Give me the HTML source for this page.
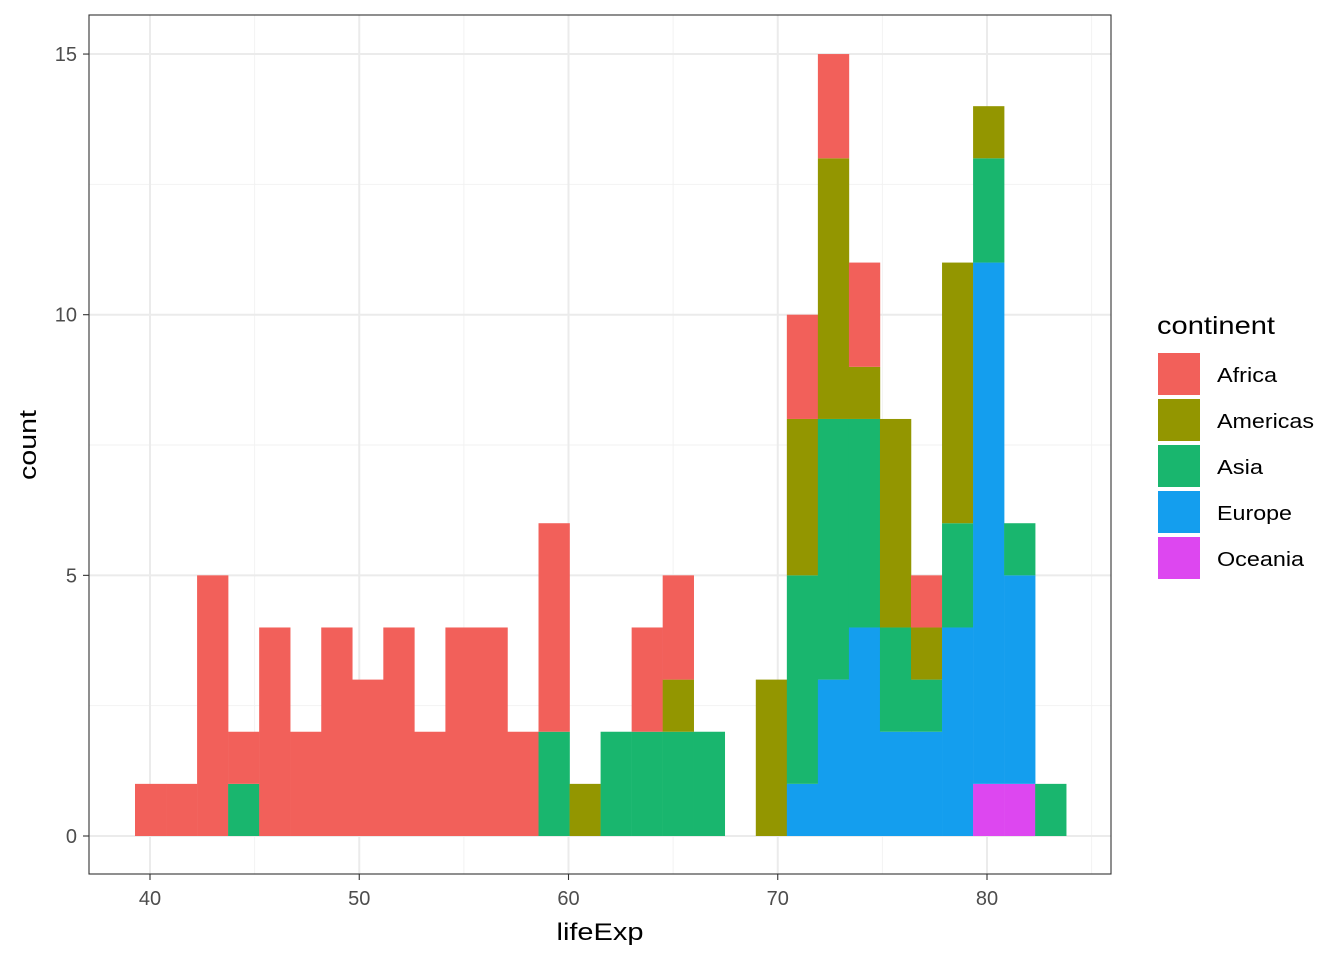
<!DOCTYPE html>
<html><head><meta charset="utf-8"><style>
html,body{margin:0;padding:0;background:#fff;}
svg{display:block;font-family:"Liberation Sans",Arial,sans-serif;}
</style></head><body>
<svg id="s" width="1344" height="960" xmlns="http://www.w3.org/2000/svg">
<rect width="1344" height="960" fill="#fff"/>
<g id="grid"></g>
<g id="bars"></g>
<rect x="89" y="15" width="1022" height="859" fill="none" stroke="#333" stroke-width="1.1"/>
<g id="ax" fill="#4d4d4d" font-size="20"></g>
<text x="600" y="940" text-anchor="middle" font-size="24" textLength="87" lengthAdjust="spacingAndGlyphs" fill="#000">lifeExp</text>
<text transform="translate(36,445) rotate(-90)" text-anchor="middle" font-size="24" textLength="70" lengthAdjust="spacingAndGlyphs" fill="#000">count</text>
<text x="1157" y="334" font-size="25" textLength="118" lengthAdjust="spacingAndGlyphs" fill="#000">continent</text>
<g id="leg" font-size="20" fill="#000"></g>
</svg>
<script>
const ns="http://www.w3.org/2000/svg";
function el(p,t,a,txt){const e=document.createElementNS(ns,t);for(const k in a)e.setAttribute(k,a[k]);if(txt!=null)e.textContent=txt;document.getElementById(p).appendChild(e);}
const X=v=>150+(v-40)*20.925, Y=c=>836-c*52.13;
for(const v of [45,55,65,75,85]) el("grid","line",{x1:X(v),x2:X(v),y1:15,y2:874,stroke:"#f2f2f2","stroke-width":1});
for(const c of [2.5,7.5,12.5]) el("grid","line",{x1:89,x2:1111,y1:Y(c),y2:Y(c),stroke:"#f2f2f2","stroke-width":1});
for(const v of [40,50,60,70,80]) {el("grid","line",{x1:X(v),x2:X(v),y1:15,y2:874,stroke:"#ebebeb","stroke-width":2});
 el("ax","line",{x1:X(v),x2:X(v),y1:874,y2:880,stroke:"#333","stroke-width":1.1});
 el("ax","text",{x:X(v),y:905,"text-anchor":"middle"},v);}
for(const c of [0,5,10,15]) {el("grid","line",{x1:89,x2:1111,y1:Y(c),y2:Y(c),stroke:"#ebebeb","stroke-width":2});
 el("ax","line",{x1:83,x2:89,y1:Y(c),y2:Y(c),stroke:"#333","stroke-width":1.1});
 el("ax","text",{x:77,y:Y(c)+7,"text-anchor":"end"},c);}
const C=["#F2605A","#939600","#19B66E","#149EEE","#DD47F0"];
const B=[[0,0,0,0,1],[0,0,0,0,1],[0,0,0,0,5],[0,0,1,0,1],[0,0,0,0,4],[0,0,0,0,2],[0,0,0,0,4],[0,0,0,0,3],[0,0,0,0,4],[0,0,0,0,2],[0,0,0,0,4],[0,0,0,0,4],[0,0,0,0,2],[0,0,2,0,4],[0,0,0,1,0],[0,0,2,0,0],[0,0,2,0,2],[0,0,2,1,2],[0,0,2,0,0],[0,0,0,0,0],[0,0,0,3,0],[0,1,4,3,2],[0,3,5,5,2],[0,4,4,1,2],[0,2,2,4,0],[0,2,1,1,1],[0,4,2,5,0],[1,10,2,1,0],[1,4,1,0,0],[0,0,1,0,0]];
const order=[4,3,2,1,0];
B.forEach((b,i)=>{const x0=135+31.04*i;let cum=0;b.forEach((n,j)=>{if(n>0){el("bars","rect",{x:x0,y:Y(cum+n),width:31.3,height:n*52.13,fill:C[order[j]]});}cum+=n;});});
const L=["Africa","Americas","Asia","Europe","Oceania"];
const W=[60,97,46,75,87];
L.forEach((l,i)=>{const y=353+46*i;el("leg","rect",{x:1158,y:y,width:42,height:42,fill:C[i]});el("leg","text",{x:1217,y:y+29,textLength:W[i],lengthAdjust:"spacingAndGlyphs"},l);});
</script>
</body></html>
